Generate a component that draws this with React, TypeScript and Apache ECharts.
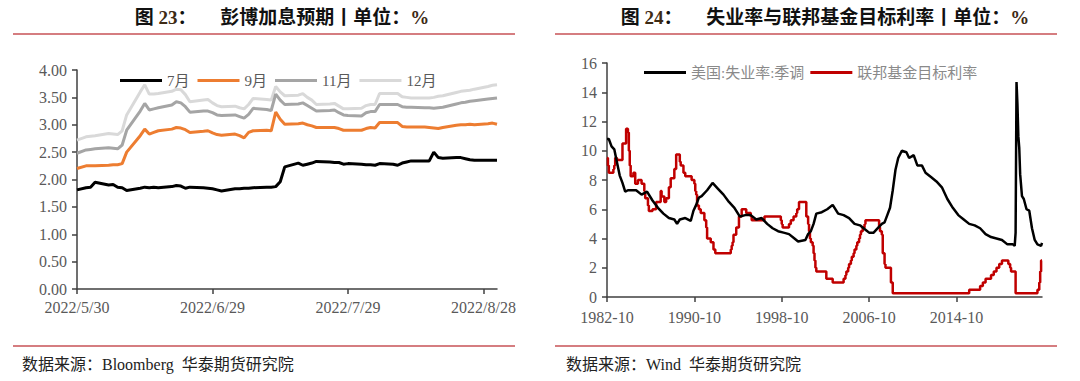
import React, { useEffect, useRef } from "react";
import * as echarts from "echarts";

// ---------- Chart 23: Bloomberg rate-hike expectations ----------
const bbgDates = [
  "2022-05-30", "2022-06-01", "2022-06-02", "2022-06-03", "2022-06-06", "2022-06-07", "2022-06-08",
  "2022-06-09", "2022-06-10", "2022-06-13", "2022-06-14", "2022-06-15", "2022-06-16", "2022-06-17",
  "2022-06-20", "2022-06-21", "2022-06-22", "2022-06-23", "2022-06-24", "2022-06-27", "2022-06-28",
  "2022-06-29", "2022-06-30", "2022-07-01", "2022-07-04", "2022-07-05", "2022-07-06", "2022-07-07",
  "2022-07-08", "2022-07-11", "2022-07-12", "2022-07-13", "2022-07-14", "2022-07-15", "2022-07-18",
  "2022-07-19", "2022-07-20", "2022-07-21", "2022-07-22", "2022-07-25", "2022-07-26", "2022-07-27",
  "2022-07-28", "2022-07-29", "2022-08-01", "2022-08-02", "2022-08-03", "2022-08-04", "2022-08-05",
  "2022-08-08", "2022-08-09", "2022-08-10", "2022-08-11", "2022-08-12", "2022-08-15", "2022-08-16",
  "2022-08-17", "2022-08-18", "2022-08-19", "2022-08-22", "2022-08-23", "2022-08-24", "2022-08-25",
  "2022-08-26", "2022-08-29", "2022-08-30", "2022-08-31",
];
const july = [
  1.81, 1.85, 1.86, 1.95, 1.90, 1.91, 1.86,
  1.85, 1.80, 1.84, 1.86, 1.85, 1.86, 1.85,
  1.87, 1.89, 1.88, 1.84, 1.86, 1.85, 1.84,
  1.83, 1.81, 1.79, 1.83, 1.83, 1.84, 1.84,
  1.85, 1.86, 1.86, 1.87, 1.96, 2.23, 2.30,
  2.26, 2.28, 2.30, 2.33, 2.32, 2.31, 2.31,
  2.28, 2.29, 2.28, 2.27, 2.27, 2.26, 2.29,
  2.28, 2.26, 2.30, 2.32, 2.34, 2.34, 2.34,
  2.50, 2.40, 2.39, 2.40, 2.40, 2.38, 2.36,
  2.35, 2.35, 2.35, 2.35,
];
const sept = [
  2.20, 2.25, 2.25, 2.25, 2.26, 2.27, 2.27,
  2.29, 2.50, 2.80, 2.92, 2.83, 2.86, 2.89,
  2.92, 2.95, 2.94, 2.91, 2.86, 2.88, 2.89,
  2.85, 2.82, 2.81, 2.83, 2.80, 2.76, 2.86,
  2.89, 2.90, 2.89, 3.23, 3.10, 3.01, 3.02,
  3.03, 3.00, 2.98, 2.95, 2.95, 2.95, 2.93,
  2.90, 2.90, 2.90, 2.93, 2.95, 2.94, 3.04,
  3.04, 3.04, 2.97, 2.96, 2.96, 2.96, 2.95,
  2.94, 2.93, 2.95, 2.99, 3.00, 3.00, 3.01,
  3.00, 3.02, 3.03, 3.01,
];
const nov = [
  2.48, 2.54, 2.55, 2.56, 2.58, 2.57, 2.56,
  2.63, 2.90, 3.25, 3.39, 3.27, 3.29, 3.31,
  3.36, 3.42, 3.40, 3.33, 3.23, 3.25, 3.25,
  3.22, 3.18, 3.17, 3.18, 3.15, 3.12, 3.19,
  3.30, 3.28, 3.26, 3.56, 3.45, 3.37, 3.38,
  3.40, 3.35, 3.30, 3.25, 3.26, 3.27, 3.22,
  3.18, 3.17, 3.16, 3.22, 3.24, 3.24, 3.37,
  3.37, 3.37, 3.33, 3.32, 3.32, 3.31, 3.31,
  3.30, 3.31, 3.32, 3.38, 3.40, 3.41, 3.43,
  3.44, 3.47, 3.48, 3.49,
];
const dec = [
  2.72, 2.78, 2.79, 2.80, 2.84, 2.83, 2.82,
  2.89, 3.18, 3.60, 3.73, 3.56, 3.56, 3.57,
  3.61, 3.65, 3.64, 3.55, 3.42, 3.45, 3.46,
  3.40, 3.35, 3.33, 3.34, 3.31, 3.29, 3.37,
  3.48, 3.46, 3.45, 3.70, 3.60, 3.53, 3.54,
  3.57, 3.50, 3.45, 3.37, 3.38, 3.39, 3.34,
  3.29, 3.29, 3.30, 3.35, 3.37, 3.37, 3.57,
  3.57, 3.57, 3.51, 3.50, 3.49, 3.49, 3.49,
  3.50, 3.52, 3.53, 3.59, 3.61, 3.62, 3.63,
  3.65, 3.70, 3.72, 3.73,
];
const bbgNames = ["7月", "9月", "11月", "12月"];
const bbgColors = ["#000000", "#ED7D31", "#A5A5A5", "#D9D9D9"];
const bbgTickDates = ["2022-05-30", "2022-06-29", "2022-07-29", "2022-08-28"];
const bbgEndDate = "2022-08-31";
const bbgYTicks = [0, 0.5, 1, 1.5, 2, 2.5, 3, 3.5, 4];

// ---------- Chart 24: Unemployment vs Fed funds target ----------
const unempDates = [
  "1982-10", "1982-12", "1983-03", "1983-06", "1983-09", "1983-12", "1984-03", "1984-06", "1984-09",
  "1984-12", "1985-06", "1985-12", "1986-06", "1986-12", "1987-06", "1987-12", "1988-06", "1988-12",
  "1989-03", "1989-06", "1989-12", "1990-06", "1990-09", "1990-12", "1991-03", "1991-06", "1991-12",
  "1992-06", "1992-12", "1993-06", "1993-12", "1994-06", "1994-12", "1995-06", "1995-12", "1996-06",
  "1996-12", "1997-06", "1997-12", "1998-06", "1998-12", "1999-06", "1999-12", "2000-04", "2000-12",
  "2001-03", "2001-06", "2001-09", "2001-12", "2002-06", "2002-12", "2003-06", "2003-12", "2004-06",
  "2004-12", "2005-06", "2005-12", "2006-06", "2006-10", "2007-03", "2007-06", "2007-12", "2008-03",
  "2008-06", "2008-09", "2008-12", "2009-03", "2009-06", "2009-10", "2010-03", "2010-06", "2010-11",
  "2011-03", "2011-08", "2011-12", "2012-06", "2012-12", "2013-06", "2013-12", "2014-06", "2014-12",
  "2015-06", "2015-12", "2016-06", "2016-12", "2017-06", "2017-12", "2018-06", "2018-12", "2019-06",
  "2019-12", "2020-02", "2020-03", "2020-04", "2020-05", "2020-06", "2020-07", "2020-08", "2020-10",
  "2020-12", "2021-03", "2021-06", "2021-09", "2021-12", "2022-03", "2022-07", "2022-08",
];
const unempValues = [
  10.8, 10.8, 10.3, 10.1, 9.2, 8.3, 7.8, 7.2, 7.3,
  7.3, 7.3, 7.0, 7.2, 6.6, 6.1, 5.7, 5.4, 5.3,
  5.0, 5.3, 5.4, 5.2, 5.9, 6.3, 6.8, 6.9, 7.3,
  7.8, 7.4, 7.0, 6.5, 6.1, 5.5, 5.6, 5.6, 5.3,
  5.4, 5.0, 4.7, 4.5, 4.4, 4.3, 4.0, 3.8, 3.9,
  4.3, 4.5, 5.0, 5.7, 5.8, 6.0, 6.3, 5.7, 5.6,
  5.4, 5.0, 4.9, 4.6, 4.4, 4.4, 4.6, 5.0, 5.1,
  5.6, 6.1, 7.3, 8.7, 9.5, 10.0, 9.9, 9.5, 9.7,
  9.0, 9.0, 8.5, 8.2, 7.9, 7.5, 6.7, 6.1, 5.6,
  5.3, 5.0, 4.9, 4.7, 4.3, 4.1, 4.0, 3.9, 3.6,
  3.6, 3.5, 4.4, 14.7, 13.2, 11.0, 10.2, 8.4, 6.9,
  6.7, 6.0, 5.9, 4.7, 3.9, 3.6, 3.5, 3.7,
];
const fedDates = [
  "1982-10", "1982-11", "1982-12", "1983-05", "1983-06", "1983-07", "1983-09", "1984-03", "1984-07",
  "1984-09", "1984-10", "1984-11", "1984-12", "1985-03", "1985-05", "1985-08", "1985-12", "1986-03",
  "1986-04", "1986-07", "1986-08", "1986-12", "1987-04", "1987-09", "1987-10", "1988-01", "1988-03",
  "1988-06", "1988-08", "1988-12", "1989-02", "1989-06", "1989-07", "1989-10", "1989-12", "1990-07",
  "1990-10", "1990-11", "1990-12", "1991-01", "1991-03", "1991-05", "1991-09", "1991-11", "1991-12",
  "1992-04", "1992-07", "1992-09", "1994-02", "1994-03", "1994-04", "1994-05", "1994-08", "1994-11",
  "1995-02", "1995-07", "1995-12", "1996-01", "1997-03", "1998-09", "1998-10", "1998-11", "1999-06",
  "1999-08", "1999-11", "2000-02", "2000-03", "2000-05", "2001-01", "2001-03", "2001-04", "2001-05",
  "2001-06", "2001-08", "2001-09", "2001-10", "2001-11", "2001-12", "2002-11", "2003-06", "2004-06",
  "2004-08", "2004-09", "2004-11", "2004-12", "2005-02", "2005-03", "2005-05", "2005-06", "2005-08",
  "2005-09", "2005-11", "2005-12", "2006-01", "2006-03", "2006-05", "2006-06", "2007-09", "2007-10",
  "2007-12", "2008-01", "2008-03", "2008-04", "2008-10", "2008-12", "2015-12", "2016-12", "2017-03",
  "2017-06", "2017-12", "2018-03", "2018-06", "2018-09", "2018-12", "2019-07", "2019-09", "2019-10",
  "2020-03", "2022-03", "2022-05", "2022-06", "2022-07", "2022-08",
];
const fedValues = [
  9.5, 9.0, 8.5, 8.75, 9.0, 9.5, 9.375, 10.5, 11.5,
  11.25, 10.0, 9.0, 8.25, 8.5, 7.75, 8.0, 7.75, 7.25,
  6.75, 6.25, 5.875, 6.0, 6.5, 7.25, 6.875, 6.5, 6.75,
  7.5, 8.125, 8.75, 9.75, 9.25, 9.0, 8.5, 8.25, 8.0,
  7.75, 7.25, 7.0, 6.25, 6.0, 5.75, 5.25, 4.75, 4.0,
  3.75, 3.25, 3.0, 3.25, 3.5, 3.75, 4.25, 4.75, 5.5,
  6.0, 5.75, 5.5, 5.25, 5.5, 5.25, 5.0, 4.75, 5.0,
  5.25, 5.5, 5.75, 6.0, 6.5, 5.5, 5.0, 4.5, 4.0,
  3.75, 3.5, 3.0, 2.5, 2.0, 1.75, 1.25, 1.0, 1.25,
  1.5, 1.75, 2.0, 2.25, 2.5, 2.75, 3.0, 3.25, 3.5,
  3.75, 4.0, 4.25, 4.5, 4.75, 5.0, 5.25, 4.75, 4.5,
  4.25, 3.0, 2.25, 2.0, 1.0, 0.25, 0.5, 0.75, 1.0,
  1.25, 1.5, 1.75, 2.0, 2.25, 2.5, 2.25, 2.0, 1.75,
  0.25, 0.5, 1.0, 1.75, 2.5, 2.5,
];
const macroNames = ["美国:失业率:季调", "联邦基金目标利率"];
const macroColors = ["#000000", "#C00000"];
const macroTickDates = ["1982-10", "1990-10", "1998-10", "2006-10", "2014-10"];
const macroEndDate = "2022-08";
const macroYTicks = [0, 2, 4, 6, 8, 10, 12, 14, 16];

// ---------- helpers ----------
const DAY = 86400000;
const bbgBase = Date.parse(bbgDates[0] + "T00:00:00Z");
const dayIndex = (d: string) => Math.round((Date.parse(d + "T00:00:00Z") - bbgBase) / DAY);
const dayLabel = (v: number) => {
  const dt = new Date(bbgBase + v * DAY);
  return `${dt.getUTCFullYear()}/${dt.getUTCMonth() + 1}/${dt.getUTCDate()}`;
};
const [baseY, baseM] = macroTickDates[0].split("-").map(Number);
const monthIndex = (d: string) => {
  const [y, m] = d.split("-").map(Number);
  return (y - baseY) * 12 + (m - baseM);
};
const monthLabel = (v: number) => {
  const total = baseY * 12 + (baseM - 1) + v;
  const y = Math.floor(total / 12);
  const m = (total % 12) + 1;
  return `${y}-${m < 10 ? "0" + m : m}`;
};

const SERIF = '"Liberation Serif", "Noto Sans CJK SC", serif';
const AXIS_COLOR = "#404040";
const LABEL_COLOR = "#595959";
const RULE_COLOR = "#D57D80";

export default function App() {
  const ref = useRef<HTMLDivElement>(null);

  useEffect(() => {
    if (!ref.current) return;
    const chart = echarts.init(ref.current, undefined, { renderer: "svg" });

    const bbgSeriesData = [july, sept, nov, dec];
    const bbgSeries = bbgNames.map((name, i) => ({
      name,
      type: "line",
      xAxisIndex: 0,
      yAxisIndex: 0,
      symbol: "none",
      z: 10 - i,
      lineStyle: { color: bbgColors[i], width: 3 },
      itemStyle: { color: bbgColors[i] },
      data: bbgDates.map((d, k) => [dayIndex(d), bbgSeriesData[i][k]]),
    }));

    const macroSeries = [
      {
        name: macroNames[0],
        type: "line",
        xAxisIndex: 1,
        yAxisIndex: 1,
        symbol: "none",
        z: 5,
        lineStyle: { color: macroColors[0], width: 2.5 },
        itemStyle: { color: macroColors[0] },
        data: unempDates.map((d, k) => [monthIndex(d), unempValues[k]]),
      },
      {
        name: macroNames[1],
        type: "line",
        xAxisIndex: 1,
        yAxisIndex: 1,
        symbol: "none",
        step: "end",
        z: 4,
        lineStyle: { color: macroColors[1], width: 2.5 },
        itemStyle: { color: macroColors[1] },
        data: fedDates.map((d, k) => [monthIndex(d), fedValues[k]]),
      },
    ];

    const axisCommon = {
      axisLine: { show: true, lineStyle: { color: AXIS_COLOR, width: 1.5 } },
      axisTick: { show: true, inside: false, length: 5, lineStyle: { color: AXIS_COLOR, width: 1.5 } },
      splitLine: { show: false },
    };
    const labelCommon = { color: LABEL_COLOR, fontFamily: SERIF, fontSize: 16 };

    const bbgTicks = bbgTickDates.map(dayIndex);
    const macroTicks = macroTickDates.map(monthIndex);

    const titleRich = (num: string, rest: string) => ({
      type: "text",
      style: {
        text: `{a|图 }{b|${num}}{a|：     ${rest}丨单位：}{b|%}`,
        rich: {
          a: { fontFamily: SERIF, fontSize: 19, fontWeight: "bold", fill: "#111" },
          b: { fontFamily: SERIF, fontSize: 19, fontWeight: "bold", fill: "#3d2a14" },
        },
        align: "center",
        verticalAlign: "middle",
      },
    });

    const option: any = {
      animation: false,
      backgroundColor: "#ffffff",
      grid: [
        { left: 77, top: 70, width: 420, height: 219, containLabel: false },
        { left: 607, top: 63, width: 435, height: 234, containLabel: false },
      ],
      xAxis: [
        {
          type: "value",
          gridIndex: 0,
          min: 0,
          max: dayIndex(bbgEndDate),
          ...axisCommon,
          axisTick: { ...axisCommon.axisTick, customValues: bbgTicks },
          axisLabel: { ...labelCommon, margin: 10, customValues: bbgTicks, formatter: (v: number) => dayLabel(v) },
        },
        {
          type: "value",
          gridIndex: 1,
          min: 0,
          max: monthIndex(macroEndDate),
          ...axisCommon,
          axisTick: { ...axisCommon.axisTick, customValues: macroTicks },
          axisLabel: { ...labelCommon, margin: 12, customValues: macroTicks, formatter: (v: number) => monthLabel(v) },
        },
      ],
      yAxis: [
        {
          type: "value",
          gridIndex: 0,
          min: 0,
          max: 4,
          interval: 0.5,
          ...axisCommon,
          axisTick: { ...axisCommon.axisTick, customValues: bbgYTicks },
          axisLabel: { ...labelCommon, margin: 10, customValues: bbgYTicks, formatter: (v: number) => v.toFixed(2) },
        },
        {
          type: "value",
          gridIndex: 1,
          min: 0,
          max: 16,
          interval: 2,
          ...axisCommon,
          axisTick: { ...axisCommon.axisTick, customValues: macroYTicks },
          axisLabel: { ...labelCommon, margin: 10, customValues: macroYTicks, formatter: (v: number) => String(v) },
        },
      ],
      legend: [
        {
          data: bbgNames,
          left: 115,
          top: 68,
          icon: "rect",
          itemWidth: 42,
          itemHeight: 3,
          itemGap: 8,
          textStyle: { color: LABEL_COLOR, fontFamily: SERIF, fontSize: 15 },
        },
        {
          data: macroNames,
          left: 639,
          top: 60,
          icon: "rect",
          itemWidth: 42,
          itemHeight: 3,
          itemGap: 6,
          textStyle: { color: "#8a8a8a", fontFamily: SERIF, fontSize: 15 },
        },
      ],
      graphic: [
        { ...titleRich("23", "彭博加息预期"), x: 282, y: 17 },
        { ...titleRich("24", "失业率与联邦基金目标利率"), x: 825, y: 17 },
        { type: "line", shape: { x1: 13, y1: 34, x2: 515, y2: 34 }, style: { stroke: RULE_COLOR, lineWidth: 2 } },
        { type: "line", shape: { x1: 555, y1: 34, x2: 1057, y2: 34 }, style: { stroke: RULE_COLOR, lineWidth: 2 } },
        { type: "line", shape: { x1: 13, y1: 346, x2: 515, y2: 346 }, style: { stroke: RULE_COLOR, lineWidth: 2 } },
        { type: "line", shape: { x1: 555, y1: 346, x2: 1057, y2: 346 }, style: { stroke: RULE_COLOR, lineWidth: 2 } },
        {
          type: "text",
          x: 22,
          y: 364,
          style: { text: "数据来源：Bloomberg  华泰期货研究院", fontFamily: SERIF, fontSize: 16, fill: "#222", verticalAlign: "middle" },
        },
        {
          type: "text",
          x: 566,
          y: 364,
          style: { text: "数据来源：Wind  华泰期货研究院", fontFamily: SERIF, fontSize: 16, fill: "#222", verticalAlign: "middle" },
        },
      ],
      series: [...bbgSeries, ...macroSeries],
    };

    chart.setOption(option);
    return () => chart.dispose();
  }, []);

  return (
    <div
      ref={ref}
      style={{ position: "fixed", left: 0, top: 0, width: 1080, height: 381, background: "#fff" }}
    />
  );
}
